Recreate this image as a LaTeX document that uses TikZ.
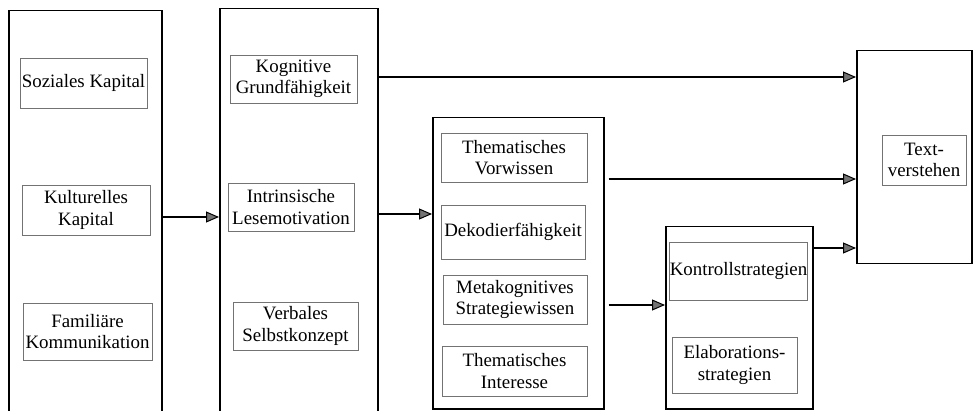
\documentclass[tikz,border=0pt]{standalone}
\usepackage{fontspec}
\setmainfont{Liberation Serif}
\usetikzlibrary{arrows.meta}
\begin{document}
\begin{tikzpicture}[x=1pt,y=-1pt,
  outer/.style={draw, line width=1.5pt, inner sep=0pt, anchor=north west},
  inbox/.style={draw=black!55, line width=0.7pt, inner sep=0pt, align=center,
    font=\fontsize{18.9}{21.5}\selectfont},
  arr/.style={line width=1.6pt, -{Triangle[length=13pt,width=11pt,fill=black!55,line width=1pt]}}]
\useasboundingbox (0,0) rectangle (973,411);
\clip (0,0) rectangle (973,411);
% outer boxes
\node[outer, minimum width=153pt, minimum height=430pt] (b1) at (8,10) {};
\node[outer, minimum width=158pt, minimum height=432pt] (b2) at (219,8) {};
\node[outer, minimum width=171pt, minimum height=291pt] (b3) at (432,117) {};
\node[outer, minimum width=147pt, minimum height=182pt] (b4) at (665,226) {};
\node[outer, minimum width=115pt, minimum height=213pt] (b5) at (856,50) {};
% box 1
\node[inbox, minimum width=127pt, minimum height=50pt] (soz) at (83.5,83) {Soziales Kapital};
\node[inbox, minimum width=128pt, minimum height=50pt] (kult) at (86,210) {Kulturelles\\Kapital};
\node[inbox, minimum width=129pt, minimum height=57pt] (fam) at (87.5,331.5) {Familiäre\\Kommunikation};
% box 2
\node[inbox, minimum width=127pt, minimum height=48pt] (kog) at (293.5,79) {Kognitive\\Grundfähigkeit};
\node[inbox, minimum width=126pt, minimum height=48pt] (intr) at (291,207) {Intrinsische\\Lesemotivation};
\node[inbox, minimum width=125pt, minimum height=48pt] (verb) at (295.5,326) {Verbales\\Selbstkonzept};
% box 3
\node[inbox, minimum width=146pt, minimum height=49pt] (vorw) at (514,157.5) {Thematisches\\Vorwissen};
\node[inbox, minimum width=144pt, minimum height=54pt] (dek) at (513,232) {Dekodierfähigkeit};
\node[inbox, minimum width=144pt, minimum height=49pt] (meta) at (515,299.5) {Metakognitives\\Strategiewissen};
\node[inbox, minimum width=145pt, minimum height=50pt] (inter) at (514.5,371) {Thematisches\\Interesse};
% box 4
\node[inbox, minimum width=137pt, minimum height=58pt] (kont) at (738.5,271) {Kontrollstrategien};
\node[inbox, minimum width=125pt, minimum height=56pt] (elab) at (734.5,365) {Elaborations-\\strategien};
% box 5
\node[inbox, minimum width=84pt, minimum height=50pt] (txt) at (924,160) {Text-\\verstehen};
% arrow heights
\coordinate (ya) at (0,217);
\coordinate (yb) at (0,77);
\coordinate (yc) at (0,214);
\coordinate (yd) at (0,179);
\coordinate (ye) at (0,305);
\coordinate (yf) at (0,248);
% connectors
\draw[arr] (b1.east |- ya) -- (b2.west |- ya);
\draw[arr] (b2.east |- yb) -- (b5.west |- yb);
\draw[arr] (b2.east |- yc) -- (b3.west |- yc);
\draw[arr, shorten <=4pt] (b3.east |- yd) -- (b5.west |- yd);
\draw[arr, shorten <=4pt] (b3.east |- ye) -- (b4.west |- ye);
\draw[arr] (b4.east |- yf) -- (b5.west |- yf);
\end{tikzpicture}
\end{document}
